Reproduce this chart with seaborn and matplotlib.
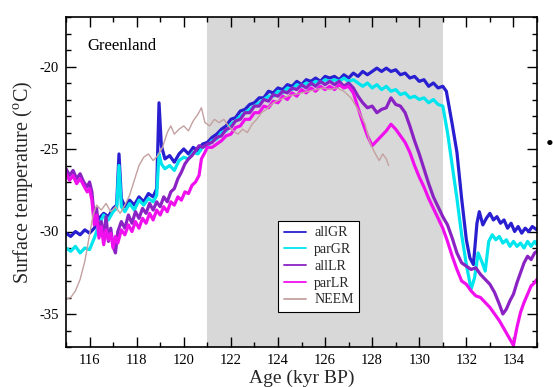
import numpy as np
import pandas as pd
import matplotlib
matplotlib.use("Agg")
import matplotlib.pyplot as plt
import seaborn as sns
from matplotlib.ticker import MultipleLocator

# ---------------- data ----------------
mid_age = [121.2, 121.4, 121.6, 121.8, 122.0, 122.2, 122.4, 122.6, 122.8, 123.0,
           123.2, 123.4, 123.6, 123.8, 124.0, 124.2, 124.4, 124.6, 124.8, 125.0,
           125.2, 125.4, 125.6, 125.8, 126.0, 126.2, 126.4, 126.6, 126.8, 127.0]

allGR_age = [115.0, 115.2, 115.4, 115.6, 115.8, 116.0, 116.2, 116.4, 116.6, 116.8,
             117.0, 117.15, 117.25, 117.35, 117.5, 117.7, 117.9, 118.1, 118.3, 118.5,
             118.7, 118.85, 118.95, 119.05, 119.2, 119.4, 119.6, 119.8, 120.0, 120.2,
             120.4, 120.6, 120.8, 121.0] + mid_age + \
            [127.2, 127.4, 127.6, 127.8, 128.0, 128.2, 128.4, 128.6, 128.8, 129.0,
             129.2, 129.4, 129.6, 129.8, 130.0, 130.2, 130.4, 130.6, 130.8, 131.0,
             131.15, 131.4, 131.6, 131.8, 132.0, 132.15, 132.3, 132.45, 132.55, 132.7,
             132.85, 133.0, 133.15, 133.3, 133.45, 133.6, 133.75, 133.9, 134.05, 134.2,
             134.35, 134.5, 134.65, 134.8, 135.0]
allGR_temp = [-30.1, -30.3, -30.0, -30.2, -29.9, -30.1, -29.8, -29.2, -28.9, -29.1,
              -28.6, -28.4, -25.3, -28.0, -28.5, -28.1, -28.4, -27.9, -28.2, -27.7,
              -27.9, -27.4, -22.2, -24.8, -25.6, -25.4, -25.8, -25.3, -25.0, -25.3,
              -24.9, -25.1, -24.7, -24.6,
              -24.3, -24.1, -23.8, -23.6, -23.2, -23.1, -22.7, -22.6, -22.3, -22.2,
              -21.9, -21.9, -21.5, -21.6, -21.3, -21.4, -21.1, -21.2, -20.9, -21.1,
              -20.8, -20.9, -20.7, -20.9, -20.6, -20.7, -20.6, -20.8, -20.5, -20.7,
              -20.4, -20.6, -20.3, -20.5, -20.3, -20.1, -20.3, -20.1, -20.3, -20.2,
              -20.5, -20.4, -20.7, -20.6, -20.9, -20.8, -21.2, -21.0, -21.3, -21.2,
              -21.5, -23.5, -25.2, -28.0, -30.5, -31.6, -32.0, -29.5, -28.8, -29.6,
              -29.2, -28.9, -29.3, -29.1, -29.5, -29.3, -29.8, -29.5, -30.0, -29.7,
              -30.1, -29.8, -30.0, -29.7, -29.9]

parGR_age = [115.0, 115.2, 115.4, 115.6, 115.8, 116.0, 116.2, 116.4, 116.6, 116.8,
             117.0, 117.15, 117.25, 117.35, 117.5, 117.7, 117.9, 118.1, 118.3, 118.5,
             118.7, 118.85, 118.95, 119.05, 119.2, 119.4, 119.6, 119.8, 120.0, 120.2,
             120.4, 120.6, 120.8, 121.0] + mid_age + \
            [127.2, 127.4, 127.6, 127.8, 128.0, 128.2, 128.4, 128.6, 128.8, 129.0,
             129.2, 129.4, 129.6, 129.8, 130.0, 130.2, 130.4, 130.6, 130.8, 131.0,
             131.2, 131.4, 131.6, 131.8, 132.0, 132.2, 132.35, 132.5, 132.65, 132.8,
             132.95, 133.1, 133.25, 133.4, 133.55, 133.7, 133.85, 134.0, 134.15, 134.3,
             134.45, 134.6, 134.75, 134.9, 135.0]
parGR_temp = [-31.0, -31.2, -30.9, -31.3, -31.0, -31.1, -30.4, -29.6, -29.0, -29.3,
              -28.8, -28.6, -26.0, -28.5, -28.8, -28.3, -28.7, -28.1, -28.4, -28.0,
              -28.2, -27.8, -25.3, -25.9, -26.2, -26.0, -26.3, -25.7, -25.5, -25.6,
              -25.2, -25.3, -24.9, -24.8,
              -24.5, -24.4, -24.0, -23.9, -23.5, -23.3, -23.0, -22.8, -22.6, -22.4,
              -22.2, -22.0, -21.8, -21.8, -21.5, -21.6, -21.3, -21.4, -21.1, -21.2,
              -21.0, -21.1, -20.9, -21.0, -20.8, -20.9, -20.8, -20.9, -20.7, -20.9,
              -20.8, -21.0, -21.2, -21.0, -21.3, -21.1, -21.4, -21.2, -21.5, -21.4,
              -21.7, -21.6, -21.9, -21.8, -22.0, -21.9, -22.2, -22.0, -22.3, -22.4,
              -24.0, -26.0, -28.0, -30.2, -32.0, -33.5, -32.8, -31.3, -31.8, -32.4,
              -30.6, -30.2, -30.5, -30.3, -30.7, -30.5, -30.9, -30.6, -30.9, -30.7,
              -31.0, -30.6, -30.9, -30.6, -30.8]

allLR_age = [115.0, 115.15, 115.3, 115.45, 115.6, 115.75, 115.9, 116.0, 116.1, 116.2,
             116.3, 116.4, 116.5, 116.6, 116.7, 116.8, 116.9, 117.0, 117.1, 117.2,
             117.35, 117.5, 117.65, 117.8, 117.95, 118.1, 118.25, 118.4, 118.55, 118.7,
             118.85, 119.0, 119.15, 119.3, 119.45, 119.6, 119.75, 119.9, 120.05, 120.2,
             120.35, 120.5, 120.65, 120.8, 121.0] + mid_age + \
            [127.2, 127.4, 127.6, 127.8, 128.0, 128.2, 128.4, 128.6, 128.8, 129.0,
             129.2, 129.4, 129.6, 129.8, 130.0, 130.2, 130.4, 130.6, 130.8, 131.0,
             131.2, 131.4, 131.6, 131.8, 132.0, 132.2, 132.4, 132.6, 132.8, 133.0,
             133.2, 133.4, 133.55, 133.7, 133.85, 134.0, 134.15, 134.3, 134.45, 134.6,
             134.75, 134.9, 135.0]
allLR_temp = [-26.2, -26.6, -26.3, -26.8, -26.5, -27.0, -27.3, -27.0, -27.6, -29.2,
              -28.6, -30.0, -29.4, -30.4, -29.1, -30.6, -29.8, -30.9, -31.3, -30.0,
              -29.4, -29.8, -29.0, -29.5, -28.8, -29.2, -28.6, -28.9, -28.3, -28.7,
              -28.2, -28.5, -27.9, -28.2, -27.6, -27.4, -26.8, -26.4, -25.9, -25.6,
              -25.4, -25.1, -24.8, -24.9, -24.7,
              -24.6, -24.3, -24.2, -23.8, -23.7, -23.3, -23.2, -22.8, -22.8, -22.4,
              -22.4, -22.0, -22.1, -21.7, -21.8, -21.5, -21.6, -21.3, -21.4, -21.1,
              -21.3, -21.0, -21.2, -20.9, -21.1, -20.9, -21.1, -20.9, -21.2, -21.0,
              -21.3, -21.8, -22.2, -22.5, -22.4, -22.8, -22.6, -22.5, -21.9, -22.3,
              -22.4, -22.8, -23.6, -24.5, -25.3, -26.2, -27.1, -27.9, -28.5, -29.1,
              -29.6, -30.4, -31.3, -31.9, -32.1, -32.3, -32.2, -32.6, -32.9, -33.2,
              -33.7, -34.4, -35.0, -34.7, -34.2, -33.8, -33.1, -32.5, -31.9, -31.5,
              -31.7, -31.3, -31.2]

parLR_age = [115.0, 115.15, 115.3, 115.45, 115.6, 115.75, 115.9, 116.0, 116.1, 116.2,
             116.3, 116.4, 116.5, 116.6, 116.7, 116.8, 116.9, 117.0, 117.1, 117.2,
             117.35, 117.5, 117.65, 117.8, 117.95, 118.1, 118.25, 118.4, 118.55, 118.7,
             118.85, 119.0, 119.15, 119.3, 119.45, 119.6, 119.75, 119.9, 120.05, 120.2,
             120.35, 120.5, 120.65, 120.75, 120.9, 121.0] + mid_age + \
            [127.2, 127.4, 127.6, 127.8, 128.0, 128.2, 128.4, 128.6, 128.8, 129.0,
             129.2, 129.4, 129.6, 129.8, 130.0, 130.2, 130.4, 130.6, 130.8, 131.0,
             131.2, 131.4, 131.6, 131.8, 132.0, 132.2, 132.4, 132.6, 132.8, 133.0,
             133.2, 133.4, 133.6, 133.8, 134.0, 134.15, 134.3, 134.45, 134.6, 134.75,
             134.9, 135.0]
parLR_temp = [-26.5, -26.9, -26.6, -27.1, -26.8, -27.2, -27.6, -27.4, -28.1, -29.6,
              -29.0, -30.4, -29.7, -30.8, -29.9, -30.5, -30.1, -31.0, -30.3, -30.7,
              -29.9, -30.2, -29.6, -30.0, -29.4, -29.8, -29.2, -29.5, -28.9, -29.3,
              -28.7, -29.0, -28.5, -28.8, -28.2, -28.4, -27.9, -28.1, -27.6, -27.7,
              -27.2, -27.0, -26.6, -25.6, -25.2, -24.9,
              -24.9, -24.7, -24.5, -24.2, -24.1, -23.7, -23.6, -23.2, -23.2, -22.8,
              -22.8, -22.4, -22.5, -22.1, -22.2, -21.8, -22.0, -21.6, -21.8, -21.4,
              -21.6, -21.3, -21.5, -21.2, -21.4, -21.2, -21.4, -21.1, -21.3, -21.2,
              -21.6, -22.5, -23.4, -24.2, -24.8, -24.5, -24.2, -23.9, -23.5, -23.8,
              -24.2, -24.6, -25.2, -26.0, -26.7, -27.3, -28.0, -28.6, -29.2, -29.8,
              -30.6, -31.5, -32.3, -33.0, -33.2, -33.6, -33.9, -34.0, -34.3, -34.6,
              -35.0, -35.4, -35.9, -36.4, -36.9, -35.8, -34.9, -34.3, -33.8, -33.3,
              -33.1, -32.9]

neem_age = [115.0, 115.2, 115.4, 115.6, 115.8, 116.0, 116.15, 116.3, 116.5, 116.7,
            116.9, 117.1, 117.3, 117.5, 117.7, 117.9, 118.1, 118.3, 118.5, 118.7,
            118.9, 119.1, 119.3, 119.45, 119.6, 119.8, 120.0, 120.2, 120.4, 120.6,
            120.75, 120.9, 121.1, 121.3, 121.5, 121.7, 121.9, 122.1, 122.3, 122.5,
            122.7, 122.9, 123.1, 123.3, 123.5, 123.8, 124.1, 124.4, 124.7, 125.0,
            125.3, 125.6, 125.9, 126.2, 126.5, 126.8, 127.1, 127.4, 127.7, 127.9,
            128.1, 128.3, 128.45, 128.6, 128.7]
neem_temp = [-34.1, -34.0, -33.6, -32.9, -31.8, -30.2, -29.0, -28.4, -28.7, -28.3,
             -28.8, -28.5, -28.9, -28.4, -27.8, -26.9, -26.0, -25.5, -25.3, -25.7,
             -25.4, -24.9, -24.0, -23.6, -24.1, -23.8, -23.6, -23.9, -23.3, -22.9,
             -22.5, -23.4, -23.6, -23.2, -23.4, -23.2, -23.6, -23.9, -24.1, -23.8,
             -24.0, -23.5, -23.2, -22.8, -22.6, -22.2, -22.0, -21.8, -21.7, -21.6,
             -21.5, -21.4, -21.3, -21.4, -21.3, -21.5, -21.9, -22.6, -23.5, -24.6,
             -25.2, -25.7, -25.3, -25.6, -26.0]

series_names = ["allGR", "parGR", "allLR", "parLR", "NEEM"]
series_ages = [allGR_age, parGR_age, allLR_age, parLR_age, neem_age]
series_temps = [allGR_temp, parGR_temp, allLR_temp, parLR_temp, neem_temp]
colors = ["#2a1fd0", "#00e5ee", "#8a22c4", "#f010ee", "#c4a0a0"]
widths = [2.3, 2.3, 2.3, 2.3, 1.0]

x_ticks = [116, 118, 120, 122, 124, 126, 128, 130, 132, 134]
y_ticks = [-35, -30, -25, -20]

# ---------------- figure ----------------
sns.set_theme(style="white")
plt.rcParams["font.family"] = ["Liberation Serif", "DejaVu Serif"]
plt.rcParams["mathtext.fontset"] = "custom"
plt.rcParams["mathtext.rm"] = "Liberation Serif"
plt.rcParams["axes.unicode_minus"] = False

fig = plt.figure(figsize=(5.53, 3.87), dpi=100)
ax = fig.add_axes([66 / 553, 1 - 347 / 387, (537 - 66) / 553, (347 - 17) / 387])

ax.axvspan(121, 131, color="#d8d8d8", lw=0, zorder=0)

for name, ages, temps, c, w in zip(series_names, series_ages, series_temps, colors, widths):
    df = pd.DataFrame({"age": ages, "temp": temps})
    sns.lineplot(data=df, x="age", y="temp", ax=ax, color=c, lw=w, label=name,
                 estimator=None, sort=False, zorder=2)

ax.set_xlim(115, 135)
ax.set_ylim(-37, -17)
ax.set_xticks(x_ticks)
ax.set_yticks(y_ticks)
ax.xaxis.set_minor_locator(MultipleLocator(1))
ax.yaxis.set_minor_locator(MultipleLocator(1))
ax.tick_params(which="both", direction="in", top=True, right=True, bottom=True, left=True,
               colors="black", labelsize=10.5, pad=5)
ax.tick_params(which="major", length=7, width=1)
ax.tick_params(which="minor", length=3.5, width=1)
for sp in ax.spines.values():
    sp.set_color("black")
    sp.set_linewidth(1.2)

ax.set_xlabel("Age (kyr BP)", fontsize=14, labelpad=2)
ax.set_ylabel("Surface temperature ($^{\\rm o}$C)", fontsize=14.5, labelpad=3)

ax.text(0.045, 0.912, "Greenland", transform=ax.transAxes, fontsize=12,
        ha="left", va="center", color="black")

leg = ax.legend(loc="lower left", bbox_to_anchor=(0.45, 0.106), fontsize=10,
                frameon=True, fancybox=False, edgecolor="black", framealpha=1,
                handlelength=1.6, handletextpad=0.6, labelspacing=0.27,
                borderpad=0.4, borderaxespad=0)
leg.get_frame().set_linewidth(0.8)
for h in leg.get_lines():
    h.set_linewidth(1.3)

fig.text(550 / 553, 1 - 146 / 387, "\u2022", fontsize=16, ha="center", va="center",
         color="black")

fig.savefig("out.png", dpi=100)
